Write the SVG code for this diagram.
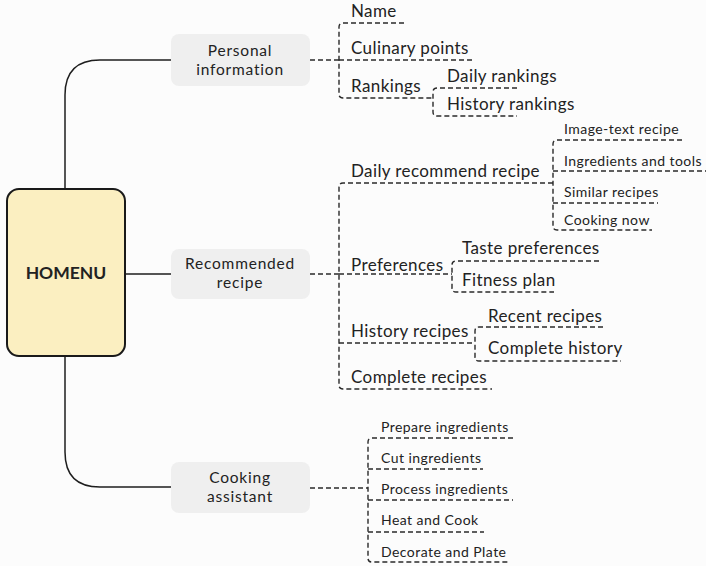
<svg xmlns="http://www.w3.org/2000/svg" width="706" height="566" viewBox="0 0 706 566">
<style>
.bg{fill:#fcfcfc}
.main{fill:none;stroke:#1e1e1e;stroke-width:1.5}
.dash{fill:none;stroke:#2a2a2a;stroke-width:1.4;stroke-dasharray:5 3}
.l1{fill:#efefef}
.t{font-family:Lato,"Noto Sans",sans-serif;fill:#222}
.t1{font-size:15.5px;letter-spacing:0.8px;text-anchor:middle}
.t2{font-size:17px;letter-spacing:0.4px}
.t3{font-size:14px;letter-spacing:0.45px}
.root{fill:#fbefc1;stroke:#1a1a1a;stroke-width:2}
</style>
<rect class="bg" x="0" y="0" width="706" height="566"/>
<g id="connectors">
<path class="main" d="M65,189 V95 Q65,60 100,60 H171"/>
<path class="main" d="M125,274 H171"/>
<path class="main" d="M65,356 V452 Q65,487 100,487 H171"/>
<path class="dash" d="M310,60 H339"/>
<path class="dash" d="M404,23 H343 Q339,23 339,27 V94 Q339,98 343,98 H433"/>
<path class="dash" d="M339,60 H472"/>
<path class="dash" d="M517,88 H437 Q433,88 433,92 V112 Q433,116 437,116 H517"/>
<path class="dash" d="M310,274 H339"/>
<path class="dash" d="M553,183 H343 Q339,183 339,187 V385 Q339,389 343,389 H492"/>
<path class="dash" d="M339,274 H452"/>
<path class="dash" d="M599,261 H456 Q452,261 452,265 V288 Q452,292 456,292 H554"/>
<path class="dash" d="M339,343 H475"/>
<path class="dash" d="M603,327 H479 Q475,327 475,331 V357 Q475,361 479,361 H621"/>
<path class="dash" d="M682,140 H557 Q553,140 553,144 V226 Q553,230 557,230 H652"/>
<path class="dash" d="M553,171 H706"/>
<path class="dash" d="M553,203 H658"/>
<path class="dash" d="M310,488 H368"/>
<path class="dash" d="M513,438 H372 Q368,438 368,442 V558 Q368,562 372,562 H509"/>
<path class="dash" d="M368,469 H483"/>
<path class="dash" d="M368,500 H513"/>
<path class="dash" d="M368,532 H484"/>
</g>
<g id="root">
<rect class="root" x="7" y="189" width="118" height="167" rx="12"/>
<text class="t" x="66" y="279" font-size="17.5" font-weight="bold" text-anchor="middle">HOMENU</text>
</g>
<g id="personal">
<rect class="l1" x="171" y="34" width="139" height="52" rx="8"/>
<text class="t t1"><tspan x="240" y="56">Personal</tspan><tspan x="240" y="74.7">information</tspan></text>
</g>
<g id="recommended">
<rect class="l1" x="171" y="249" width="139" height="50" rx="8"/>
<text class="t t1"><tspan x="240" y="269">Recommended</tspan><tspan x="240" y="287.7">recipe</tspan></text>
</g>
<g id="cooking">
<rect class="l1" x="171" y="462" width="139" height="51" rx="8"/>
<text class="t t1"><tspan x="240" y="483">Cooking</tspan><tspan x="240" y="501.7">assistant</tspan></text>
</g>
<g id="name"><text class="t t2" x="351" y="17">Name</text></g>
<g id="culinary"><text class="t t2" x="351" y="54">Culinary points</text></g>
<g id="rankings"><text class="t t2" x="351" y="92">Rankings</text></g>
<g id="daily-rankings"><text class="t t2" x="447" y="82">Daily rankings</text></g>
<g id="history-rankings"><text class="t t2" x="447" y="110">History rankings</text></g>
<g id="daily-recommend"><text class="t t2" x="351" y="177">Daily recommend recipe</text></g>
<g id="image-text"><text class="t t3" x="564" y="134">Image-text recipe</text></g>
<g id="ingredients-tools"><text class="t t3" x="564" y="166">Ingredients and tools</text></g>
<g id="similar"><text class="t t3" x="564" y="197">Similar recipes</text></g>
<g id="cooking-now"><text class="t t3" x="564" y="225">Cooking now</text></g>
<g id="preferences"><text class="t t2" x="351" y="271">Preferences</text></g>
<g id="taste"><text class="t t2" x="462" y="254">Taste preferences</text></g>
<g id="fitness"><text class="t t2" x="462" y="286">Fitness plan</text></g>
<g id="history-recipes"><text class="t t2" x="351" y="337">History recipes</text></g>
<g id="recent"><text class="t t2" x="488" y="322">Recent recipes</text></g>
<g id="complete-history"><text class="t t2" x="488" y="354">Complete history</text></g>
<g id="complete-recipes"><text class="t t2" x="351" y="383">Complete recipes</text></g>
<g id="prepare"><text class="t t3" x="381" y="432">Prepare ingredients</text></g>
<g id="cut"><text class="t t3" x="381" y="463">Cut ingredients</text></g>
<g id="process"><text class="t t3" x="381" y="494">Process ingredients</text></g>
<g id="heat"><text class="t t3" x="381" y="525">Heat and Cook</text></g>
<g id="decorate"><text class="t t3" x="381" y="557">Decorate and Plate</text></g>
</svg>
